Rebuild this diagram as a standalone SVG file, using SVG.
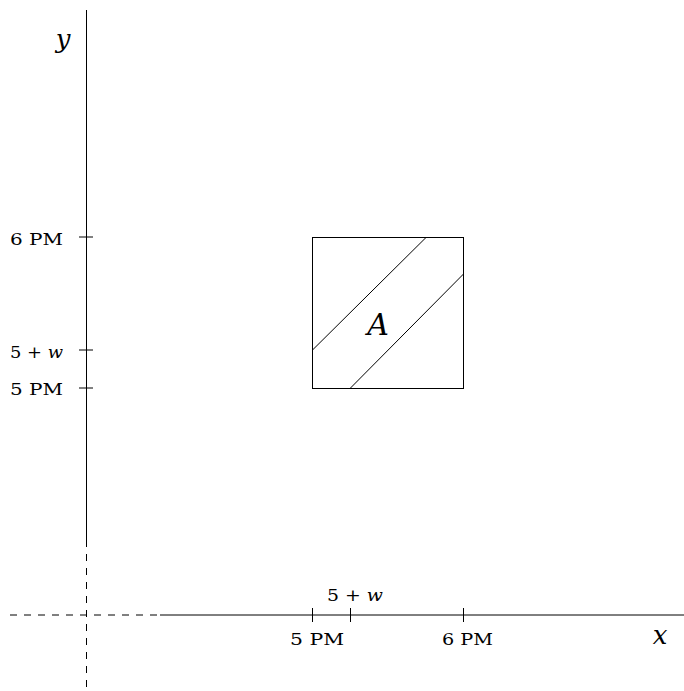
<svg xmlns="http://www.w3.org/2000/svg" width="684" height="691" viewBox="0 0 684 691">
<style>
.ln{stroke:#000;stroke-width:1;fill:none}
.ax{stroke:#000;stroke-width:1;fill:none}
.dash{stroke-dasharray:7 7}
.lbl{font-family:"DejaVu Serif",serif;font-size:17px;fill:#000}
.it{font-family:"DejaVu Serif",serif;font-style:italic;fill:#000}
.w{font-style:italic}
</style>
<rect width="684" height="691" fill="#fff"/>
<g id="axes">
<line class="ax" x1="86.5" y1="10" x2="86.5" y2="540"/>
<line class="ax dash" x1="86.5" y1="540" x2="86.5" y2="691"/>
<line class="ax" x1="160" y1="615" x2="684" y2="615"/>
<line class="ax dash" x1="10" y1="615" x2="160" y2="615"/>
<text class="it" x="63" y="48" font-size="26" text-anchor="middle">y</text>
<text class="it" x="660" y="644" font-size="26" text-anchor="middle">x</text>
</g>
<g id="ticks">
<line class="ln" x1="312.5" y1="608" x2="312.5" y2="622"/>
<line class="ln" x1="350.5" y1="608" x2="350.5" y2="622"/>
<line class="ln" x1="463.5" y1="608" x2="463.5" y2="622"/>
<line class="ln" x1="79" y1="237" x2="93" y2="237"/>
<line class="ln" x1="79" y1="350" x2="93" y2="350"/>
<line class="ln" x1="79" y1="388" x2="93" y2="388"/>
<text class="lbl" x="290" y="645" textLength="54" lengthAdjust="spacingAndGlyphs">5 PM</text>
<text class="lbl" x="442" y="645" textLength="51" lengthAdjust="spacingAndGlyphs">6 PM</text>
<text class="lbl" x="327" y="601" textLength="56" lengthAdjust="spacingAndGlyphs">5 + <tspan class="w">w</tspan></text>
<text class="lbl" x="10" y="245" textLength="53" lengthAdjust="spacingAndGlyphs">6 PM</text>
<text class="lbl" x="10" y="358" textLength="53" lengthAdjust="spacingAndGlyphs">5 + <tspan class="w">w</tspan></text>
<text class="lbl" x="10" y="395" textLength="53" lengthAdjust="spacingAndGlyphs">5 PM</text>
</g>
<g id="region">
<rect class="ln" x="312.5" y="237.5" width="151" height="151"/>
<line class="ln" x1="312.5" y1="350" x2="426" y2="237.5"/>
<line class="ln" x1="350" y1="388.5" x2="463.5" y2="274"/>
<text class="it" x="378" y="335" font-size="30" text-anchor="middle">A</text>
</g>
</svg>
